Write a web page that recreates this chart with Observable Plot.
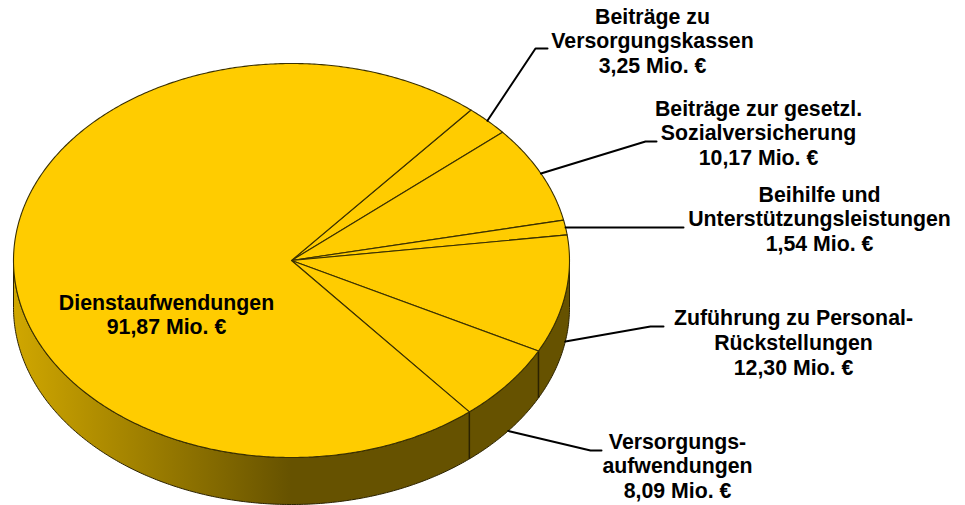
<!DOCTYPE html>
<html>
<head>
<meta charset="utf-8">
<style>html,body{margin:0;padding:0;background:#fff}</style>
<script src="https://cdn.jsdelivr.net/npm/d3@7"></script>
<script src="https://cdn.jsdelivr.net/npm/@observablehq/plot@0.6"></script>
</head>
<body>
<div id="chart"></div>
<script>
// Data
const names = ["Beiträge zu Versorgungskassen","Beiträge zur gesetzl. Sozialversicherung","Beihilfe und Unterstützungsleistungen","Zuführung zu Personal-Rückstellungen","Versorgungsaufwendungen","Dienstaufwendungen"];
const values = [3.25, 10.17, 1.54, 12.30, 8.09, 91.87];
const labelLines = [
  "Beiträge zu\nVersorgungskassen",
  "Beiträge zur gesetzl.\nSozialversicherung",
  "Beihilfe und\nUnterstützungsleistungen",
  "Zuführung zu Personal-\nRückstellungen",
  "Versorgungs-\naufwendungen",
  "Dienstaufwendungen"
];
const valueText = values.map(v => v.toFixed(2).replace(".", ",") + " Mio. €");

// Layout of the tilted disc and annotations
const cx = 291, cy = 260, rx = 278, ry = 197, depth = 47, startDeg = 49.8;
const labelX = [652, 758, 819, 793, 677, 166];
const labelY = [40, 132, 218, 341.5, 465, 313.5];
const elbowX = [535, 645, null, 650, 590, null];
const elbowY = [48, 141, null, 326, 450, null];
const endX   = [547, 656, 683, 663, 601, null];

const total = d3.sum(values);
const pt = (deg, dz = 0) => ({x: cx + rx * Math.cos(deg * Math.PI / 180), y: cy - ry * Math.sin(deg * Math.PI / 180) + dz});

// Slices run clockwise from the start angle
let a = startDeg;
const slices = values.map((v, i) => {
  const a0 = a, a1 = a - v / total * 360; a = a1;
  return {i, name: names[i], a0, a1, mid: (a0 + a1) / 2};
});

const slicePts = slices.flatMap(s => {
  const n = Math.ceil((s.a0 - s.a1) * 2);
  const arc = d3.range(n + 1).map(k => pt(s.a0 + (s.a1 - s.a0) * k / n));
  return [{x: cx, y: cy}, ...arc, {x: cx, y: cy}].map(p => ({...p, name: s.name}));
});

const sideArc = d3.range(0, 361).map(k => 180 + k / 2);
const sidePts = [...sideArc.map(d => pt(d)), ...sideArc.slice().reverse().map(d => pt(d, depth))];
sidePts.push(sidePts[0]);

// Vertical seams on the visible rim
const seams = slices.filter(s => Math.sin(s.a1 * Math.PI / 180) < 0 && s.a1 > -90)
  .map(s => { const p = pt(s.a1), q = pt(s.a1, depth); return {x1: p.x, y1: p.y, x2: q.x, y2: q.y}; });

// Leader lines start on the mid-angle of each slice
const leaders = slices.slice(0, 5).flatMap((s, i) => {
  const onRim = Math.sin(s.mid * Math.PI / 180) < -0.1;
  const p = pt(s.mid, onRim ? depth : 0);
  const rows = [{...p, i}];
  if (elbowX[i] != null) rows.push({x: elbowX[i], y: elbowY[i], i});
  rows.push({x: endX[i], y: elbowY[i] != null ? elbowY[i] : p.y, i});
  return rows;
});

const labels = labelLines.map((t, i) => ({x: labelX[i], y: labelY[i], text: t + "\n" + valueText[i]}));

const defs = () => {
  const d = d3.create("svg:defs");
  const g = d.append("linearGradient").attr("id", "rimGrad").attr("x1", 0).attr("x2", 1).attr("y1", 0).attr("y2", 0);
  g.append("stop").attr("offset", "0%").attr("stop-color", "#d0a700");
  g.append("stop").attr("offset", "50%").attr("stop-color", "#665200");
  g.append("stop").attr("offset", "100%").attr("stop-color", "#665200");
  return d.node();
};

const chart = Plot.plot({
  width: 965, height: 505, margin: 0,
  style: {background: "#fff", fontFamily: "'Liberation Sans', Arial, sans-serif"},
  x: {domain: [0, 965], range: [0, 965], axis: null},
  y: {domain: [0, 505], range: [0, 505], axis: null},
  marks: [
    defs,
    Plot.line(sidePts, {x: "x", y: "y", fill: "url(#rimGrad)", stroke: "#2b2200", strokeWidth: 1}),
    Plot.link(seams, {x1: "x1", y1: "y1", x2: "x2", y2: "y2", stroke: "#2b2200", strokeWidth: 1.5}),
    Plot.line(slicePts, {x: "x", y: "y", z: "name", fill: "#ffcc00", stroke: "#3a3000", strokeWidth: 1.1}),
    Plot.line(leaders, {x: "x", y: "y", z: "i", stroke: "#000", strokeWidth: 2}),
    Plot.text(labels, {x: "x", y: "y", text: "text", fontSize: 21.3, fontWeight: "bold", fill: "#000", lineHeight: 1.165, textAnchor: "middle"})
  ]
});
document.getElementById("chart").appendChild(chart);
</script>
</body>
</html>
